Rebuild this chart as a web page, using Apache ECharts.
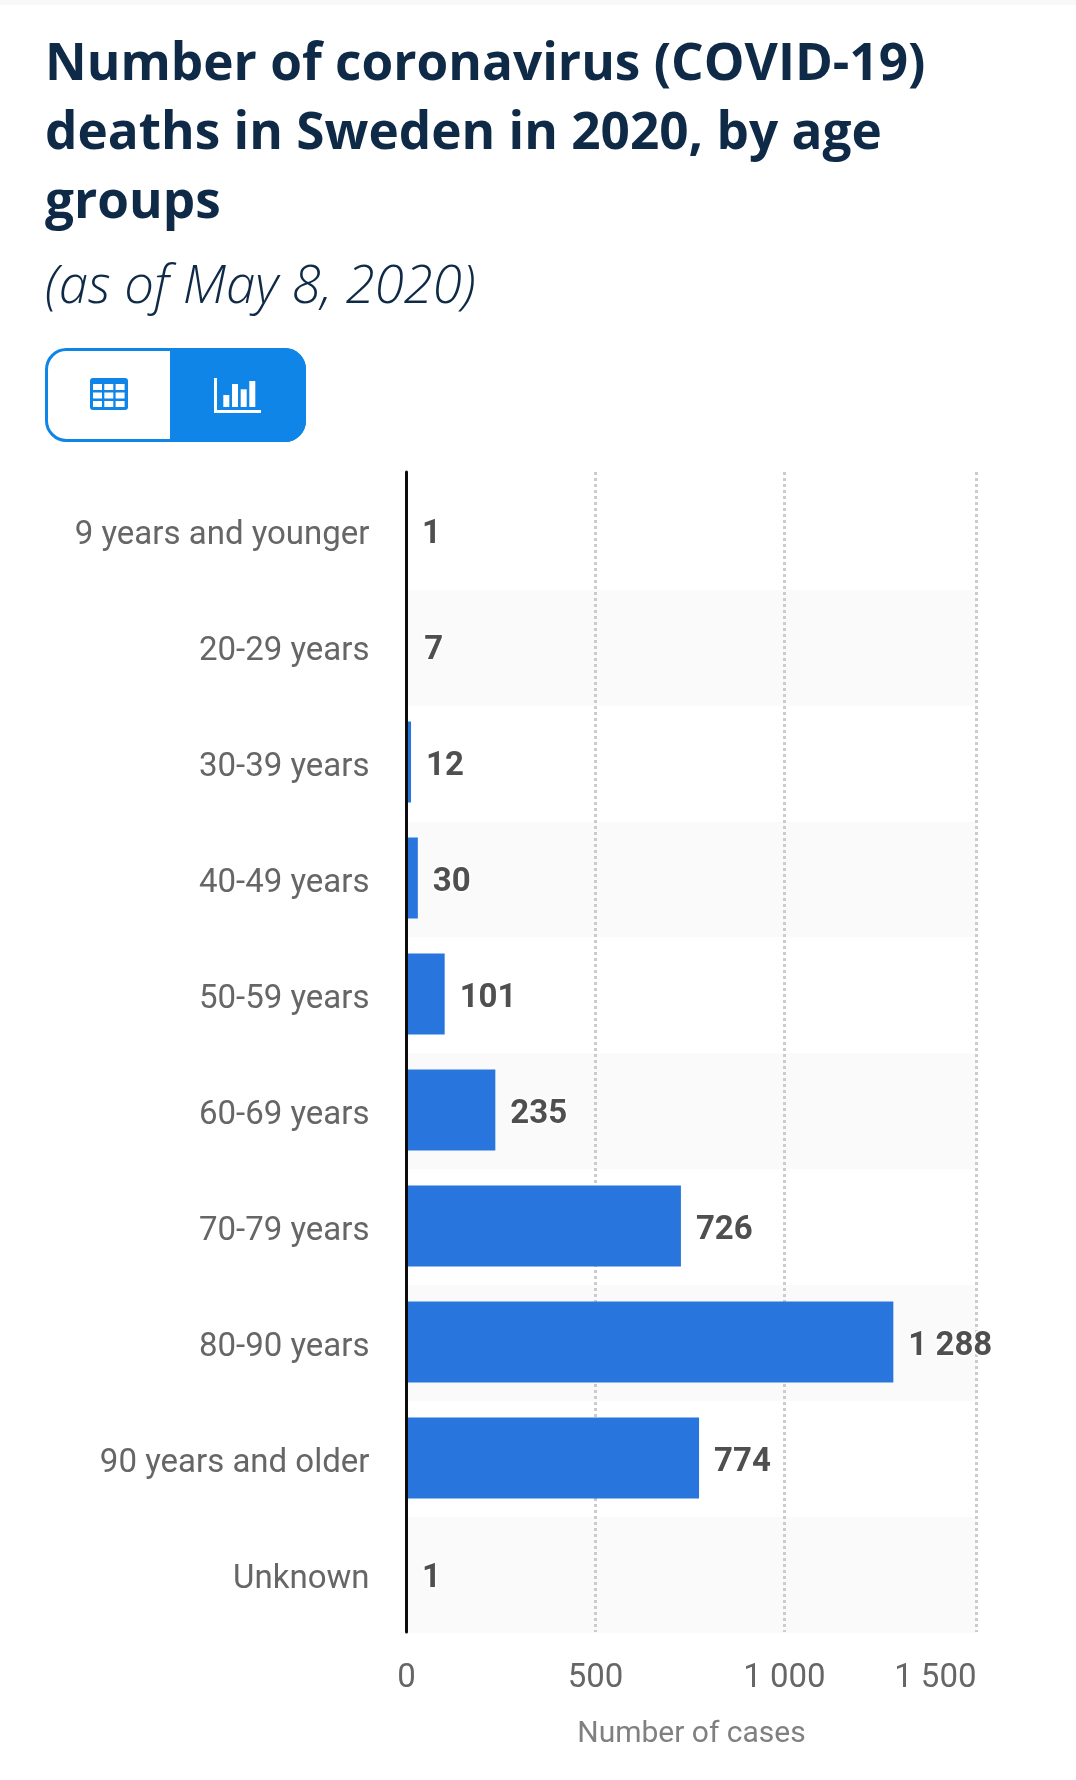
<!DOCTYPE html>
<html><head><meta charset="utf-8">
<style>html,body{margin:0;padding:0;background:#fff}#c{width:1076px;height:1780px}</style>
<script src="https://cdn.jsdelivr.net/npm/echarts@6/dist/echarts.min.js"></script>
</head><body><div id="c"></div>
<script>
const categories = ["9 years and younger","20-29 years","30-39 years","40-49 years","50-59 years","60-69 years","70-79 years","80-90 years","90 years and older","Unknown"];
const deaths = [1,7,12,30,101,235,726,1288,774,1];
const tickValues = [0,500,1000,1508];
const tickLabels = ["0","500","1 000","1 500"];
const titleText = "Number of coronavirus (COVID-19)\ndeaths in Sweden in 2020, by age\ngroups";
const subtitleText = "(as of May 8, 2020)";
const axisName = "Number of cases";

const BLUE = "#0f85e8";
const chart = echarts.init(document.getElementById('c'), null, {renderer:'canvas'});

const icons = [];
icons.push({type:'rect',shape:{x:0,y:0,width:1076,height:5},style:{fill:'#f8f8f8'},silent:true});
icons.push({type:'rect',shape:{x:46.5,y:349.5,width:258,height:91,r:20},style:{fill:'#fff',stroke:BLUE,lineWidth:3}});
icons.push({type:'rect',shape:{x:170,y:348,width:136,height:94,r:[0,21,21,0]},style:{fill:BLUE}});
icons.push({type:'rect',shape:{x:90,y:378,width:38,height:32,r:3},style:{fill:BLUE}});
for(let r=0;r<3;r++)for(let k=0;k<3;k++){
  icons.push({type:'rect',shape:{x:93+k*11.3,y:384+r*8.5,width:9,height:6},style:{fill:'#fff'}});
}
icons.push({type:'rect',shape:{x:214,y:378,width:3,height:35},style:{fill:'#fff'}});
icons.push({type:'rect',shape:{x:214,y:410,width:47,height:3},style:{fill:'#fff'}});
[[223.3,395,6,12],[232,384,6,23],[240.7,389.3,6,17.7],[249.3,381,6,26]].forEach(b=>{
  icons.push({type:'rect',shape:{x:b[0],y:b[1],width:b[2],height:b[3]},style:{fill:'#fff'}});
});

chart.setOption({
  animation:false,
  backgroundColor:'#fff',
  title:[
    {text:titleText,left:40,top:25.5,textStyle:{fontFamily:'"Open Sans"',fontWeight:700,fontSize:51.3,lineHeight:69.2,color:'#0f2a47'}},
    {text:subtitleText,left:40,top:253,textStyle:{fontFamily:'"Open Sans"',fontWeight:300,fontStyle:'italic',fontSize:52.8,lineHeight:60,color:'#0f2a47'}}
  ],
  graphic:icons,
  grid:[
    {left:406.5,top:474,width:570,height:1159},
    {left:406.5,top:472,width:570,height:1160}
  ],
  xAxis:[
    {type:'value',gridIndex:0,min:0,max:1508,show:false},
    {type:'value',gridIndex:1,min:0,max:1508,z:1,
     name:axisName,nameLocation:'middle',nameGap:87,
     nameTextStyle:{fontFamily:'Roboto',fontSize:30,color:'#808080'},
     axisLine:{show:false},
     axisTick:{show:false,customValues:tickValues},
     axisLabel:{customValues:tickValues,margin:30,fontFamily:'Roboto',fontSize:33,color:'#666',alignMaxLabel:'right',
       formatter:v=>tickLabels[tickValues.indexOf(v)]},
     splitLine:{show:true,lineStyle:{color:'#ccc',width:3,type:[3,3]}}}
  ],
  yAxis:[
    {type:'category',gridIndex:0,data:categories,inverse:true,z:0,
     axisLine:{show:false},axisTick:{show:false},axisLabel:{show:false},splitLine:{show:false},
     splitArea:{show:true,areaStyle:{color:['#ffffff','#fafafa']}}},
    {type:'category',gridIndex:1,data:categories,inverse:true,z:3,
     axisLine:{show:true,onZero:false,lineStyle:{color:'#0d0d0d',width:3}},
     axisTick:{show:false},splitLine:{show:false},
     axisLabel:{margin:37,fontFamily:'Roboto',fontSize:33,color:'#666',verticalAlign:'top',lineHeight:12}}
  ],
  series:[{
    type:'bar',data:deaths,barWidth:81,xAxisIndex:1,yAxisIndex:1,
    itemStyle:{color:p=>p.value<10?'transparent':'#2975de'},
    label:{show:true,position:'right',distance:15,offset:[0,5],fontFamily:'Roboto',fontWeight:700,fontSize:33,color:'#4f4f4f',
      textBorderColor:'#fff',textBorderWidth:3,
      formatter:p=>String(p.value).replace(/\B(?=(\d{3})+$)/g,' ')}
  }]
});
</script></body></html>
